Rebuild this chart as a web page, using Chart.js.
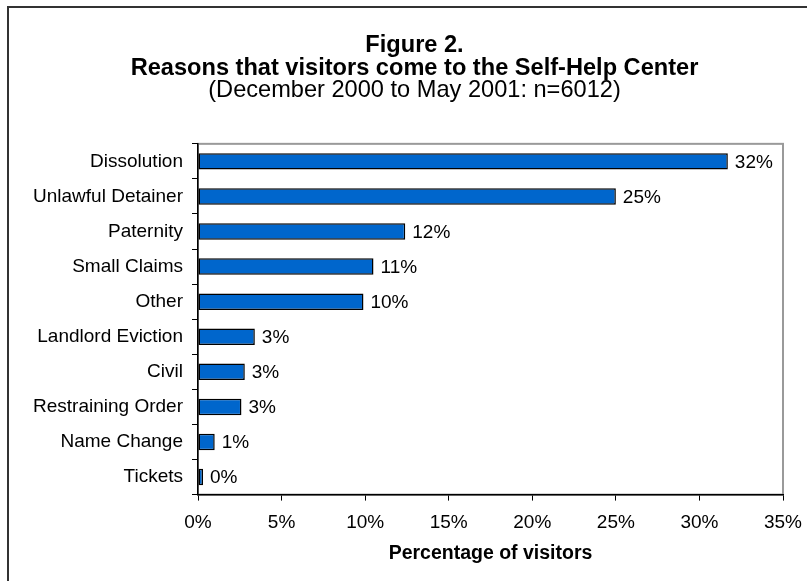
<!DOCTYPE html>
<html>
<head>
<meta charset="utf-8">
<script src="https://cdn.jsdelivr.net/npm/chart.js@4.4.1/dist/chart.umd.min.js"></script>
<style>
  html, body { margin: 0; padding: 0; background: #fff; }
  #wrap { width: 807px; height: 581px; }
</style>
</head>
<body>
<div id="wrap"><canvas id="chart" width="807" height="581"></canvas></div>
<script>
const reasons = [
  'Dissolution',
  'Unlawful Detainer',
  'Paternity',
  'Small Claims',
  'Other',
  'Landlord Eviction',
  'Civil',
  'Restraining Order',
  'Name Change',
  'Tickets'
];
const percentVisitors = [31.7, 25.0, 12.4, 10.5, 9.9, 3.4, 2.8, 2.6, 1.0, 0.3];
const xTicks = [0, 5, 10, 15, 20, 25, 30, 35];

Chart.defaults.font.family = '"Liberation Sans", Arial, sans-serif';
Chart.defaults.color = '#000';

// frame round the whole picture and grey box round the plot
const frames = {
  id: 'frames',
  afterLayout(chart) {
    // let the category labels run into the left padding without clipping
    chart.scales.y.left = 0;
  },
  beforeDraw(chart) {
    const ctx = chart.ctx;
    const a = chart.chartArea;
    ctx.save();
    ctx.strokeStyle = '#333';
    ctx.lineWidth = 2;
    ctx.strokeRect(8, 7, 900, 700);
    ctx.strokeStyle = '#9a9a9a';
    ctx.lineWidth = 2;
    ctx.strokeRect(a.left, a.top, a.right - a.left, a.bottom - a.top);
    ctx.restore();
  }
};

// value labels at the end of each bar
const valueLabels = {
  id: 'valueLabels',
  afterDatasetsDraw(chart) {
    const ctx = chart.ctx;
    const meta = chart.getDatasetMeta(0);
    ctx.save();
    ctx.font = '19px "Liberation Sans", Arial, sans-serif';
    ctx.fillStyle = '#000';
    ctx.textAlign = 'left';
    ctx.textBaseline = 'middle';
    meta.data.forEach((bar, i) => {
      ctx.fillText(Math.round(percentVisitors[i]) + '%', bar.x + 7, bar.y + 1);
    });
    ctx.restore();
  }
};

const config = {
  type: 'bar',
  data: {
    labels: reasons,
    datasets: [{
      data: percentVisitors,
      backgroundColor: '#0066CC',
      borderColor: '#000',
      borderWidth: 1.5,
      borderSkipped: false,
      barPercentage: 0.47,
      categoryPercentage: 1
    }]
  },
  options: {
    indexAxis: 'y',
    responsive: false,
    animation: false,
    layout: { padding: { top: 34, left: 46, right: 24, bottom: 20 } },
    plugins: {
      legend: { display: false },
      tooltip: { enabled: false },
      title: {
        display: true,
        text: ['Figure 2.', 'Reasons that visitors come to the Self-Help Center'],
        font: { size: 23.6, weight: 'bold', lineHeight: 0.98 },
        color: '#000',
        padding: { top: 0, bottom: 0 }
      },
      subtitle: {
        display: true,
        text: '(December 2000 to May 2001: n=6012)',
        font: { size: 23.6, weight: 'normal', lineHeight: 0.83 },
        color: '#000',
        padding: { top: 0, bottom: 44 }
      }
    },
    scales: {
      x: {
        min: 0,
        max: 35,
        afterBuildTicks(scale) {
          scale.ticks = xTicks.map(v => ({ value: v }));
        },
        afterFit(scale) {
          scale.paddingRight = 0;
          scale.paddingLeft = 0;
        },
        ticks: {
          callback: v => v + '%',
          font: { size: 19 },
          padding: 11,
          maxRotation: 0
        },
        grid: {
          drawOnChartArea: false,
          drawTicks: true,
          tickLength: 6,
          color: '#000'
        },
        border: { color: '#000', width: 1.5 },
        title: {
          display: true,
          text: 'Percentage of visitors',
          font: { size: 19.5, weight: 'bold', lineHeight: 0.8 },
          padding: { top: 0, bottom: 0 }
        }
      },
      y: {
        afterFit(scale) { scale.width = 152; },
        ticks: {
          font: { size: 19 },
          padding: 9,
          autoSkip: false
        },
        grid: {
          offset: true,
          drawOnChartArea: false,
          drawTicks: true,
          tickLength: 6,
          color: '#000'
        },
        border: { color: '#000', width: 1.5 }
      }
    }
  },
  plugins: [frames, valueLabels]
};

const myChart = new Chart(document.getElementById('chart'), config);
</script>
</body>
</html>
